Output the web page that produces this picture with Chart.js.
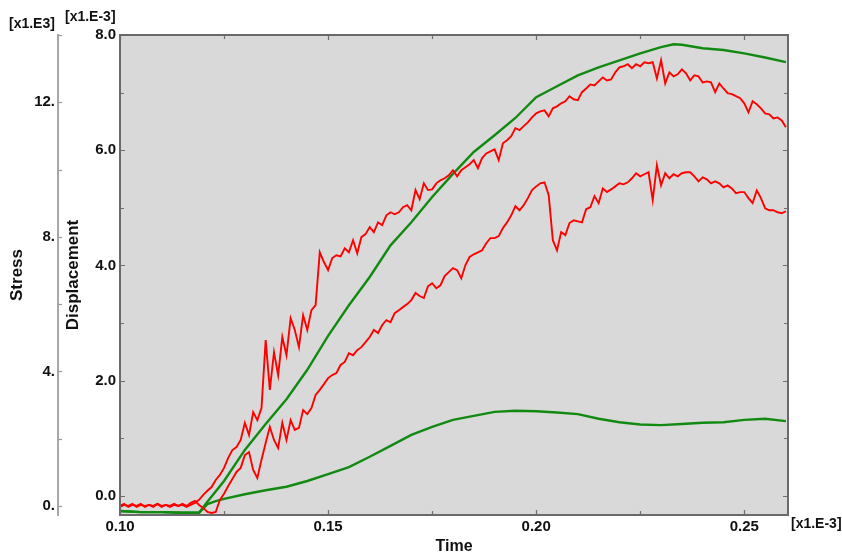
<!DOCTYPE html>
<html><head><meta charset="utf-8">
<script src="https://cdn.jsdelivr.net/npm/chart.js@4.4.1/dist/chart.umd.min.js"></script>
<style>html,body{margin:0;padding:0;background:#fff}#wrap{width:842px;height:558px}</style>
</head><body><div id="wrap"><canvas id="c" width="842" height="558"></canvas></div>
<script>
// Time samples (x1.E-3) for the two stress curves
const time = [
0.100,0.101,0.102,0.103,0.104,0.105,0.106,0.107,0.108,0.109,
0.110,0.111,0.112,0.113,0.114,0.115,0.116,0.117,0.118,0.119,
0.120,0.121,0.122,0.123,0.124,0.125,0.126,0.127,0.128,0.129,
0.130,0.131,0.132,0.133,0.134,0.135,0.136,0.137,0.138,0.139,
0.140,0.141,0.142,0.143,0.144,0.145,0.146,0.147,0.148,0.149,
0.150,0.151,0.152,0.153,0.154,0.155,0.156,0.157,0.158,0.159,
0.160,0.161,0.162,0.163,0.164,0.165,0.166,0.167,0.168,0.169,
0.170,0.171,0.172,0.173,0.174,0.175,0.176,0.177,0.178,0.179,
0.180,0.181,0.182,0.183,0.184,0.185,0.186,0.187,0.188,0.189,
0.190,0.191,0.192,0.193,0.194,0.195,0.196,0.197,0.198,0.199,
0.200,0.201,0.202,0.203,0.204,0.205,0.206,0.207,0.208,0.209,
0.210,0.211,0.212,0.213,0.214,0.215,0.216,0.217,0.218,0.219,
0.220,0.221,0.222,0.223,0.224,0.225,0.226,0.227,0.228,0.229,
0.230,0.231,0.232,0.233,0.234,0.235,0.236,0.237,0.238,0.239,
0.240,0.241,0.242,0.243,0.244,0.245,0.246,0.247,0.248,0.249,
0.250,0.251,0.252,0.253,0.254,0.255,0.256,0.257,0.258,0.259,
0.260];

// Stress (x1.E3), upper red curve
const stressUpper = [
0,0.06,-0.03,0.03,0,0.06,-0.03,0.03,0,0.06,
-0.03,0.03,0,0.06,0,0.03,-0.03,0.03,0.09,0.18,
0.33,0.45,0.56,0.77,0.92,1.13,1.43,1.66,1.75,1.96,
2.47,2.11,2.79,2.55,2.91,4.93,3.45,4.57,3.89,5.02,
4.48,5.58,5.23,4.72,5.67,5.23,5.82,5.97,7.54,7.25,
7.01,7.37,7.45,7.42,7.66,7.54,7.90,7.51,7.99,8.08,
8.29,8.14,8.43,8.35,8.64,8.73,8.67,8.73,8.88,8.94,
8.79,9.39,9.12,9.59,9.39,9.41,9.59,9.68,9.74,9.83,
9.98,9.80,9.98,10.07,10.16,10.28,10.04,10.34,10.48,10.54,
10.60,10.28,10.78,10.87,10.99,11.23,11.17,11.29,11.40,11.55,
11.67,11.73,11.76,11.58,11.82,11.88,11.97,12.03,12.18,12.09,
12.06,12.30,12.41,12.53,12.50,12.62,12.74,12.65,12.68,12.89,
13.04,13.07,13.13,13.01,13.13,13.07,13.19,13.16,13.19,12.71,
13.25,12.56,12.89,12.77,12.83,12.98,12.86,12.65,12.80,12.77,
12.59,12.62,12.59,12.30,12.56,12.41,12.27,12.24,12.18,12.12,
11.97,11.70,12.03,11.94,11.82,11.67,11.64,11.52,11.55,11.46,
11.26];

// Stress (x1.E3), lower red curve
const stressLower = [
-0.03,0.03,0,0.06,-0.03,0.03,0,0.03,-0.03,0.06,
0,0.03,-0.03,0.03,0,0.06,0,0.09,0.15,0.03,
-0.06,-0.18,-0.21,-0.18,0.18,0.36,0.59,0.80,1.01,1.13,
1.51,1.60,1.07,0.83,1.37,1.87,2.35,1.96,1.72,2.47,
1.96,2.55,2.26,2.32,2.85,2.73,2.91,3.30,3.45,3.62,
3.80,3.89,3.95,4.19,4.28,4.54,4.48,4.63,4.72,4.87,
5.02,5.23,5.14,5.38,5.52,5.46,5.73,5.82,5.91,6.00,
6.12,6.33,6.24,6.18,6.53,6.62,6.47,6.56,6.83,6.95,
7.07,7.01,6.77,7.16,7.40,7.48,7.54,7.60,7.81,7.96,
7.96,8.02,8.26,8.43,8.64,8.91,8.79,8.94,9.15,9.39,
9.50,9.59,9.62,9.24,7.90,7.60,8.14,8.05,8.41,8.49,
8.46,8.43,8.82,8.88,9.21,9.00,9.44,9.33,9.41,9.50,
9.59,9.56,9.62,9.74,9.89,9.80,9.86,9.92,9.09,10.13,
9.53,9.89,9.74,9.86,9.80,9.89,9.92,9.92,9.80,9.65,
9.77,9.71,9.59,9.65,9.59,9.47,9.53,9.44,9.30,9.33,
9.33,9.15,9.00,9.38,9.15,8.85,8.79,8.79,8.73,8.70,
8.76];

// Displacement (x1.E-3), upper green curve
const dispUpperTime = [0.100,0.105,0.110,0.115,0.119,0.121,0.125,0.130,0.135,0.140,0.145,0.150,0.155,0.160,0.165,0.170,0.175,0.180,0.185,0.190,0.195,0.200,0.205,0.210,0.215,0.220,0.225,0.230,0.233,0.235,0.240,0.245,0.250,0.255,0.260];
const dispUpper = [-0.26,-0.28,-0.28,-0.29,-0.29,-0.10,0.26,0.80,1.25,1.68,2.19,2.78,3.31,3.80,4.35,4.75,5.19,5.59,5.97,6.26,6.56,6.92,7.11,7.30,7.44,7.56,7.68,7.79,7.84,7.83,7.77,7.74,7.68,7.61,7.53];

// Displacement (x1.E-3), lower green curve
const dispLowerTime = [0.100,0.105,0.110,0.115,0.119,0.121,0.123,0.125,0.130,0.135,0.140,0.145,0.150,0.155,0.160,0.165,0.170,0.175,0.180,0.185,0.190,0.195,0.200,0.205,0.210,0.215,0.220,0.225,0.230,0.235,0.240,0.245,0.250,0.255,0.260];
const dispLower = [-0.26,-0.28,-0.28,-0.29,-0.29,-0.14,-0.09,-0.05,0.03,0.10,0.16,0.26,0.38,0.50,0.68,0.87,1.06,1.20,1.32,1.39,1.46,1.48,1.47,1.45,1.42,1.34,1.28,1.24,1.23,1.25,1.27,1.28,1.32,1.34,1.30];

// Tick values and labels
const xTicks = [0.100,0.125,0.150,0.175,0.200,0.225,0.250];
const xLabels = ['0.10','','0.15','','0.20','','0.25'];
const dTicks = [0,1,2,3,4,5,6,7,8];
const dLabels = ['0.0','','2.0','','4.0','','6.0','','8.0'];
const sTicks = [0,2,4,6,8,10,12,14];
const sLabels = ['0.','','4.','','8.','','12.',''];

const FAM = '"Liberation Sans", Arial, Helvetica, sans-serif';
const TXT = '#111';
const pts = (xs, ys) => xs.map((x, i) => ({x: x, y: ys[i]}));

const decor = {
  id: 'decor',
  beforeDatasetsDraw(chart) {
    const {ctx, chartArea: a} = chart;
    ctx.save();
    ctx.fillStyle = '#d9d9d9';
    ctx.fillRect(a.left, a.top, a.right - a.left, a.bottom - a.top);
    ctx.restore();
  },
  afterDraw(chart) {
    const {ctx, chartArea: a, scales} = chart;
    ctx.save();
    ctx.strokeStyle = '#6e6e6e';
    ctx.lineWidth = 1.2;
    xTicks.forEach((v, i) => {
      const px = Math.round(scales.x.getPixelForValue(v)) + 0.5;
      const L = xLabels[i] ? 5 : 4;
      ctx.beginPath();
      ctx.moveTo(px, a.bottom); ctx.lineTo(px, a.bottom - L);
      ctx.moveTo(px, a.top); ctx.lineTo(px, a.top + L);
      ctx.stroke();
    });
    dTicks.forEach((v, i) => {
      const py = Math.round(scales.yD.getPixelForValue(v)) + 0.5;
      const L = dLabels[i] ? 5 : 4;
      ctx.beginPath();
      ctx.moveTo(a.left, py); ctx.lineTo(a.left + L, py);
      ctx.moveTo(a.right, py); ctx.lineTo(a.right - L, py);
      ctx.stroke();
    });
    ctx.strokeStyle = '#9a9a9a';
    const sx = scales.yS.right;
    sTicks.forEach((v) => {
      const py = Math.round(scales.yS.getPixelForValue(v)) + 0.5;
      ctx.beginPath();
      ctx.moveTo(sx, py); ctx.lineTo(sx + 4, py);
      ctx.stroke();
    });
    ctx.strokeStyle = '#6a6a6a';
    ctx.lineWidth = 2;
    ctx.strokeRect(a.left, a.top, a.right - a.left, a.bottom - a.top);
    ctx.fillStyle = TXT;
    ctx.font = 'bold 14px ' + FAM;
    ctx.textBaseline = 'middle';
    ctx.textAlign = 'left';
    ctx.fillText('[x1.E3]', 9, 24);
    ctx.fillText('[x1.E-3]', 65, 17);
    ctx.fillText('[x1.E-3]', a.right + 3, 524);
    ctx.restore();
  }
};

const tickFont = {family: FAM, size: 15, weight: 'bold'};
const titleFont = {family: FAM, size: 17, weight: 'bold'};

new Chart(document.getElementById('c'), {
  type: 'line',
  data: {
    datasets: [
      {data: pts(time, stressUpper), yAxisID: 'yS', borderColor: '#ff0000', borderWidth: 1.9},
      {data: pts(time, stressLower), yAxisID: 'yS', borderColor: '#ff0000', borderWidth: 1.9},
      {data: pts(dispUpperTime, dispUpper), yAxisID: 'yD', borderColor: '#128a12', borderWidth: 2.4},
      {data: pts(dispLowerTime, dispLower), yAxisID: 'yD', borderColor: '#128a12', borderWidth: 2.4}
    ]
  },
  options: {
    responsive: false,
    animation: false,
    parsing: false,
    normalized: true,
    layout: {padding: {left: 0, right: 54, top: 35, bottom: 0}},
    elements: {point: {radius: 0}, line: {tension: 0, fill: false}},
    plugins: {legend: {display: false}, tooltip: {enabled: false}},
    scales: {
      x: {
        type: 'linear', position: 'bottom', min: 0.10, max: 0.2605,
        afterBuildTicks: s => { s.ticks = xTicks.map(v => ({value: v})); },
        afterFit: s => { s.height = 43; },
        grid: {display: false, drawTicks: false}, border: {display: false},
        ticks: {autoSkip: false, maxRotation: 0, padding: 3, color: TXT, font: tickFont,
                callback: (v, i) => xLabels[i]},
        title: {display: true, text: 'Time', color: TXT, font: {family: FAM, size: 16, weight: 'bold'}, padding: {top: 0, bottom: 2}}
      },
      yS: {
        type: 'linear', position: 'left', weight: 2, min: -0.27, max: 14.0,
        afterBuildTicks: s => { s.ticks = sTicks.map(v => ({value: v})); },
        afterFit: s => { s.width = 58; },
        grid: {display: false, drawTicks: false}, border: {display: true, color: '#a8a8a8', width: 2},
        ticks: {autoSkip: false, padding: 3, color: TXT, font: tickFont,
                callback: (v, i) => sLabels[i]},
        title: {display: true, text: 'Stress', color: TXT, font: titleFont, padding: {top: 7, bottom: 0}}
      },
      yD: {
        type: 'linear', position: 'left', weight: 1, min: -0.33, max: 8.0,
        afterBuildTicks: s => { s.ticks = dTicks.map(v => ({value: v})); },
        afterFit: s => { s.width = 62; },
        grid: {display: false, drawTicks: false}, border: {display: false},
        ticks: {autoSkip: false, padding: 4, color: TXT, font: tickFont,
                callback: (v, i) => dLabels[i]},
        title: {display: true, text: 'Displacement', color: TXT, font: titleFont, padding: {top: 5, bottom: 0}}
      }
    }
  },
  plugins: [decor]
});
</script>
</body></html>
